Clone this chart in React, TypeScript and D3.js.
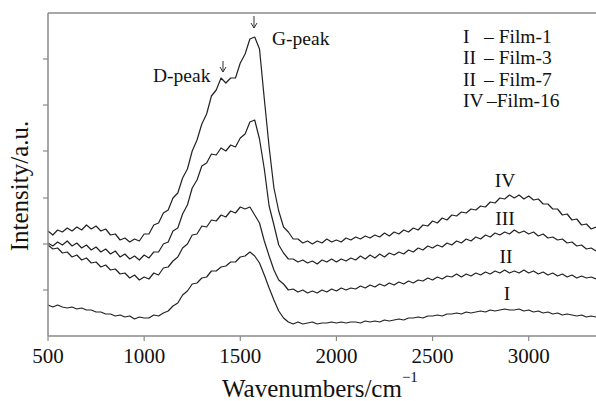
import React from "react";
import * as d3 from "d3";

// Raman spectra — wavenumber grid (cm^-1) and intensities (a.u.)
const WAVENUMBERS: number[] = d3.range(500, 3351, 25);

const FILM_1 = [
  31,29,31,29,28,29,27,28,26,26, 24,24,22,22,20,21,19,20,17,19,
  18,18,21,20,23,25,30,33,41,45, 52,53,58,59,65,65,69,70,74,74,
  79,80,84,80,73,61,48,36,25,18, 14,12,14,12,13,14,12,13,13,14,
  13,14,13,14,14,13,15,14,15,14, 16,15,16,17,16,18,18,19,18,20,
  20,21,20,22,22,23,22,24,23,24, 25,24,26,25,26,27,26,26,27,25,
  26,24,25,23,24,22,23,21,22,21, 20,21,19,20,19,
];
const FILM_3 = [
  91,87,88,83,84,79,81,76,78,73, 74,69,71,66,67,62,63,58,61,56,
  59,57,63,61,68,69,75,79,88,92, 101,102,110,109,116,115,121,119,125,123,
  129,127,129,121,113,95,80,66,56,52, 46,47,44,46,43,45,43,46,44,47,
  45,48,46,48,47,50,48,51,49,52, 50,53,51,54,52,55,53,56,55,58,
  56,59,57,60,59,62,59,62,60,63, 61,64,62,65,63,66,63,65,63,66,
  63,65,62,64,61,63,60,62,59,61, 58,60,58,59,57,
];
const FILM_7 = [
  93,90,94,91,95,90,93,88,91,86, 89,84,87,82,85,79,82,77,80,76,
  81,78,84,84,92,94,105,108,122,131, 148,156,170,173,182,181,188,185,191,189,
  198,202,214,216,197,167,130,111,91,83, 77,77,74,76,73,75,72,76,74,77,
  74,77,75,78,76,80,77,81,78,82, 79,83,81,84,82,86,84,88,86,90,
  88,91,89,93,91,95,93,97,95,99, 97,101,99,103,101,104,102,106,103,105,
  102,104,100,102,98,99,96,97,93,94, 90,91,87,88,85,
];
const FILM_16 = [
  105,101,106,104,108,105,109,106,111,107, 110,105,107,101,102,96,98,94,97,95,
  102,102,111,113,123,126,138,143,158,167, 185,196,212,222,240,246,258,253,258,258,
  273,282,297,299,287,237,189,148,125,109, 104,97,97,93,95,92,95,93,97,94,
  96,94,98,96,99,97,100,98,101,99, 103,100,104,102,106,104,108,106,111,110,
  115,113,118,116,121,120,124,123,127,126, 130,129,134,133,138,137,141,138,141,137,
  140,136,137,132,132,127,127,121,122,116, 117,111,112,107,109,
];

const SERIES = [FILM_1, FILM_3, FILM_7, FILM_16];
const CURVE_LABELS = ["I", "II", "III", "IV"];
const LEGEND_NUMERALS = ["I", "II", "II", "IV"];
const LEGEND_FILMS = ["Film-1", "Film-3", "Film-7", "Film-16"];
const X_TICKS = [500, 1000, 1500, 2000, 2500, 3000];
const Y_TICKS = [46, 92, 138, 185, 231, 277];

const W = 596;
const H = 401;
const FONT = "'Liberation Serif', 'Times New Roman', serif";

export default function App() {
  const x = d3.scaleLinear().domain([500, 3350]).range([48, 596]);
  const y = d3.scaleLinear().domain([0, 323]).range([336, 13]);
  const line = d3
    .line<[number, number]>()
    .x((d) => x(d[0]))
    .y((d) => y(d[1]));

  const axisColor = "#8a8a8a";
  const labelPos = [
    { lx: 507, ly: 300 },
    { lx: 506, ly: 263 },
    { lx: 505, ly: 225 },
    { lx: 505, ly: 187 },
  ];
  const legendBase = [43, 64, 86, 107];

  const arrow = (ax: number, y1: number, y2: number) =>
    `M${ax},${y1}L${ax},${y2}M${ax - 3},${y2 - 5}L${ax},${y2}L${ax + 3},${y2 - 5}`;

  return (
    <svg
      width={W}
      height={H}
      style={{ position: "absolute", left: 0, top: 0, background: "#fff" }}
      fontFamily={FONT}
    >
      <rect width={W} height={H} fill="#fff" />
      {/* spectra */}
      {SERIES.map((s, i) => (
        <path
          key={i}
          d={line(WAVENUMBERS.map((v, j) => [v, s[j]] as [number, number])) || ""}
          fill="none"
          stroke="#222"
          strokeWidth={1.2}
          strokeLinejoin="round"
        />
      ))}
      {/* axes */}
      <line x1={x(500)} x2={x(3350)} y1={y(0)} y2={y(0)} stroke={axisColor} strokeWidth={1.5} />
      <line x1={x(500)} x2={x(3350)} y1={y(323)} y2={y(323)} stroke={axisColor} strokeWidth={1.5} />
      <line x1={x(500)} x2={x(500)} y1={y(0)} y2={y(323)} stroke={axisColor} strokeWidth={1.5} />
      {X_TICKS.map((t) => (
        <g key={t}>
          <line x1={x(t)} x2={x(t)} y1={y(0)} y2={y(0) + 5} stroke={axisColor} strokeWidth={1.2} />
          <text x={x(t)} y={363} textAnchor="middle" fontSize={21} fill="#111">
            {t}
          </text>
        </g>
      ))}
      {Y_TICKS.map((t) => (
        <line key={t} x1={x(500) - 5} x2={x(500)} y1={y(t)} y2={y(t)} stroke={axisColor} strokeWidth={1.2} />
      ))}
      {/* axis titles */}
      <text x={222} y={397} fontSize={25} fill="#111">
        Wavenumbers/cm
        <tspan fontSize={15} dy={-15}>−1</tspan>
      </text>
      <text
        transform={`translate(28,186) rotate(-90)`}
        textAnchor="middle"
        fontSize={25}
        fill="#111"
      >
        Intensity/a.u.
      </text>
      {/* peak annotations */}
      <text x={153} y={82} fontSize={19.5} fill="#111">D-peak</text>
      <text x={272} y={45} fontSize={19.5} fill="#111">G-peak</text>
      <path d={arrow(223, 61, 72)} stroke="#333" strokeWidth={1} fill="none" />
      <path d={arrow(254, 16, 28)} stroke="#333" strokeWidth={1} fill="none" />
      {/* curve labels */}
      {CURVE_LABELS.map((l, i) => (
        <text key={l} x={labelPos[i].lx} y={labelPos[i].ly} textAnchor="middle" fontSize={19.5} fill="#111">
          {l}
        </text>
      ))}
      {/* legend */}
      {LEGEND_NUMERALS.map((n, i) => (
        <g key={i}>
          <text x={463} y={legendBase[i]} fontSize={19.5} fill="#111">{n}</text>
          <text x={i === 3 ? 487 : 484} y={legendBase[i]} fontSize={19.5} fill="#111">
            {i === 3 ? "–" : "– "}
            {LEGEND_FILMS[i]}
          </text>
        </g>
      ))}
    </svg>
  );
}
